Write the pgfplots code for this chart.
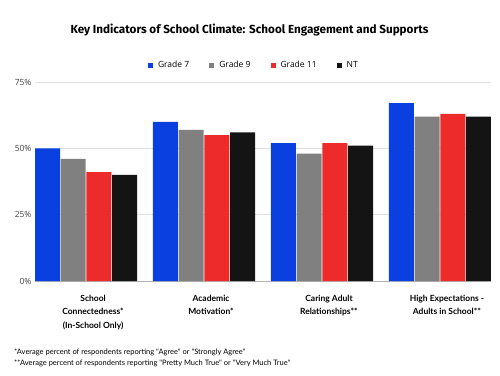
\documentclass[border=0pt]{standalone}
\usepackage{fontspec}
\setmainfont{Open Sans}
\newfontfamily\titlefont{Fira Sans}
\newfontfamily\labfont{Lato}
\usepackage{pgfplots}
\pgfplotsset{compat=1.18}
\definecolor{cblue}{HTML}{0A40E0}
\definecolor{cgray}{HTML}{808080}
\definecolor{cred}{HTML}{EE2B2B}
\definecolor{cblack}{HTML}{141414}
\definecolor{tickgray}{HTML}{444444}
\begin{document}
\begin{tikzpicture}
\path[use as bounding box] (0,0) rectangle (500pt,375pt);
\begin{axis}[
  at={(35pt,94pt)}, anchor=south west,
  scale only axis, width=456pt, height=199pt,
  ymin=0, ymax=75, xmin=-0.433, xmax=3.433,
  ybar=0.7pt, bar width=25pt,
  ytick={0,25,50,75},
  yticklabels={0\%,25\%,50\%,75\%},
  xtick={0,1,2,3},
  xticklabels={School\\Connectedness*\\(In-School Only),Academic\\Motivation*,Caring Adult\\Relationships**,High Expectations -\\Adults in School**},
  xticklabel style={align=center, font=\labfont\bfseries\fontsize{8.5}{13.5}\selectfont, xshift=7pt, yshift=-6pt, text=black},
  yticklabel style={font=\fontsize{8.5}{10}\selectfont, text=tickgray},
  axis line style={draw=none},
  tick style={draw=none},
  ymajorgrids, grid style={gray!25, line width=0.8pt},
  extra y ticks={0}, extra y tick labels={},
  extra y tick style={grid style={gray!60, line width=1pt}},
  legend columns=4,
  legend style={draw=none, at={(0.48,1.085)}, anchor=center, font=\fontsize{8.5}{10}\selectfont, /tikz/every even column/.append style={column sep=18pt}, /tikz/every odd column/.append style={column sep=3pt}},
  legend image code/.code={\fill[#1] (0pt,-2.5pt) rectangle (5pt,2.5pt);},
]
\addplot[fill=cblue, draw=none] coordinates {(0,50) (1,60) (2,52) (3,67)};
\addplot[fill=cgray, draw=none] coordinates {(0,46) (1,57) (2,48) (3,62)};
\addplot[fill=cred, draw=none] coordinates {(0,41) (1,55) (2,52) (3,63)};
\addplot[fill=cblack, draw=none] coordinates {(0,40) (1,56) (2,51) (3,62)};
\legend{Grade 7, Grade 9, Grade 11, NT}
\end{axis}
\node[font=\titlefont\bfseries\fontsize{11.7}{14}\selectfont] at (249.5pt,345pt) {Key Indicators of School Climate: School Engagement and Supports};
\node[anchor=base west, inner sep=0pt, font=\labfont\fontsize{7.5}{9}\selectfont] at (14pt,20.5pt) {*Average percent of respondents reporting "Agree" or "Strongly Agree"};
\node[anchor=base west, inner sep=0pt, font=\labfont\fontsize{7.5}{9}\selectfont] at (14pt,9.5pt) {**Average percent of respondents reporting "Pretty Much True" or "Very Much True"};
\end{tikzpicture}
\end{document}
